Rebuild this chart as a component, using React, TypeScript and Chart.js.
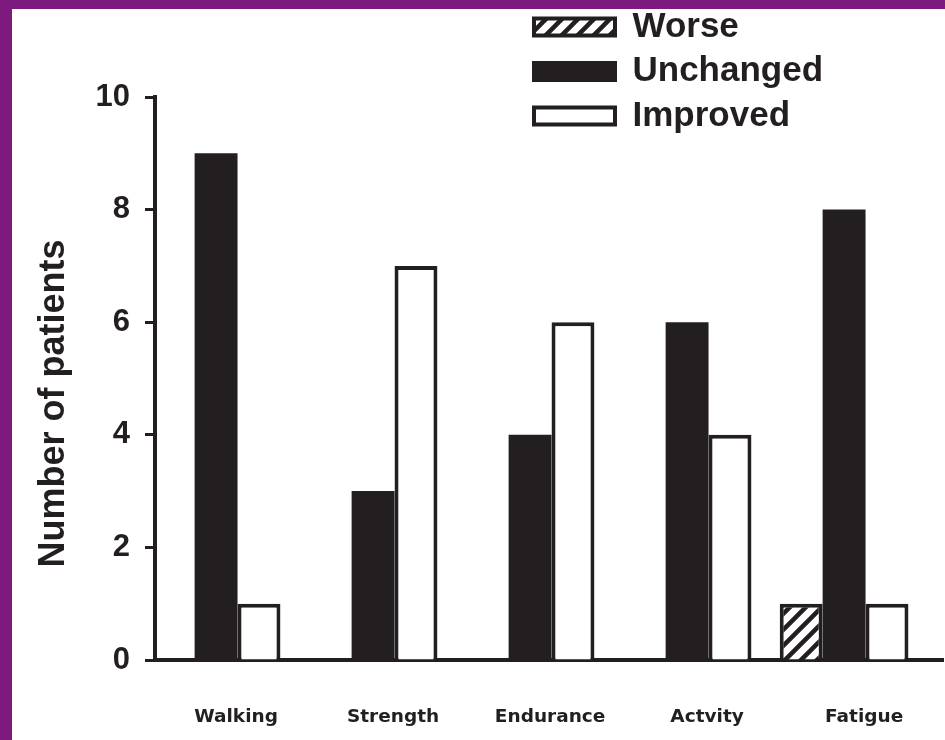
import { useEffect, useRef } from "react";
import { Chart, registerables } from "chart.js";

Chart.register(...registerables);

// Outcome categories and patient counts per response group
const categories = ["Walking", "Strength", "Endurance", "Actvity", "Fatigue"];
const worse = [0, 0, 0, 0, 1];
const unchanged = [9, 3, 4, 6, 8];
const improved = [1, 7, 6, 4, 1];
const yTicks = [0, 2, 4, 6, 8, 10];
const seriesNames = ["Worse", "Unchanged", "Improved"];

const INK = "#231F20";
const FRAME = "#7D1A7D";
const CANVAS_W = 933;
const CANVAS_H = 731;
// x range around category positions 1..5
const X_MIN = 0.611;
const X_MAX = 5.63;

function makeHatch(): CanvasPattern | string {
  const s = 16;
  const c = document.createElement("canvas");
  c.width = s;
  c.height = s;
  const g = c.getContext("2d");
  if (!g) return "#fff";
  g.fillStyle = "#fff";
  g.fillRect(0, 0, s, s);
  g.strokeStyle = INK;
  g.lineWidth = 4.5;
  g.beginPath();
  g.moveTo(-s / 2, s / 2);
  g.lineTo(s / 2, -s / 2);
  g.moveTo(0, s);
  g.lineTo(s, 0);
  g.moveTo(s / 2, s * 1.5);
  g.lineTo(s * 1.5, s / 2);
  g.stroke();
  return g.createPattern(c, "repeat") ?? "#fff";
}

const toPoints = (vals: number[]) => vals.map((v, i) => ({ x: i + 1, y: v }));

// Places the stacked legend in the upper-right corner, overlapping the plot
const legendPlacement = {
  id: "legendPlacement",
  beforeDraw(chart: any) {
    const lg = chart.legend;
    if (!lg) return;
    const w = lg.width;
    const h = lg.height;
    lg.left = 512.5;
    lg.top = -9;
    lg.right = lg.left + w;
    lg.bottom = lg.top + h;
  },
};

export default function App() {
  const ref = useRef<HTMLCanvasElement | null>(null);

  useEffect(() => {
    if (!ref.current) return;
    const hatch = makeHatch();
    const chart = new Chart(ref.current, {
      type: "bar",
      data: {
        datasets: [
          {
            label: seriesNames[0],
            data: toPoints(worse),
            backgroundColor: hatch as any,
            borderColor: INK,
            borderWidth: 4,
          },
          {
            label: seriesNames[1],
            data: toPoints(unchanged),
            backgroundColor: INK,
            borderColor: INK,
            borderWidth: 0,
          },
          {
            label: seriesNames[2],
            data: toPoints(improved),
            backgroundColor: "#ffffff",
            borderColor: INK,
            borderWidth: 4,
          },
        ],
      },
      options: {
        responsive: false,
        animation: false,
        devicePixelRatio: 1,
        events: [],
        datasets: {
          bar: {
            categoryPercentage: 0.82,
            barPercentage: 1,
          },
        },
        layout: {
          padding: { left: 8, top: 88, right: 2, bottom: 12 },
        },
        plugins: {
          tooltip: { enabled: false },
          legend: {
            display: true,
            position: "chartArea",
            align: "start",
            labels: {
              boxWidth: 81,
              boxHeight: 17,
              padding: 9.5,
              color: INK,
              font: { family: "Liberation Sans", weight: "bold", size: 35 },
              generateLabels: (chart: any) =>
                Chart.defaults.plugins.legend.labels
                  .generateLabels(chart)
                  .map((item: any) => ({ ...item, lineWidth: 4, strokeStyle: INK })),
            },
          },
        },
        scales: {
          x: {
            type: "linear",
            offset: false,
            min: X_MIN,
            max: X_MAX,
            afterBuildTicks: (scale: any) => {
              scale.ticks = categories.map((_, i) => ({ value: i + 1 }));
            },
            afterFit: (scale: any) => {
              scale.height = 68;
            },
            ticks: {
              callback: (_v: any, i: number) => categories[i] ?? "",
              autoSkip: false,
              maxRotation: 0,
              padding: 46,
              labelOffset: 20,
              color: INK,
              font: { family: "DejaVu Sans", weight: "bold", size: 18.5 },
            },
            grid: { display: false, drawTicks: false, offset: false },
            border: { display: true, color: INK, width: 4 },
          },
          y: {
            min: 0,
            max: 10,
            afterBuildTicks: (scale: any) => {
              scale.ticks = yTicks.map((v) => ({ value: v }));
            },
            afterFit: (scale: any) => {
              scale.width = 135;
            },
            ticks: {
              padding: 15,
              color: INK,
              font: { family: "Liberation Sans", weight: "bold", size: 31 },
            },
            grid: {
              drawOnChartArea: false,
              drawTicks: true,
              tickLength: 10,
              tickWidth: 3,
              tickColor: INK,
            },
            border: { display: true, color: INK, width: 4 },
            title: {
              display: true,
              text: "Number of patients     ",
              color: INK,
              font: { family: "Liberation Sans", weight: "bold", size: 36 },
              padding: { top: 12, bottom: 0 },
            },
          },
        },
      },
      plugins: [legendPlacement],
    } as any);
    return () => chart.destroy();
  }, []);

  return (
    <div
      style={{
        position: "absolute",
        left: 0,
        top: 0,
        width: 945,
        height: 740,
        boxSizing: "border-box",
        paddingLeft: 12,
        paddingTop: 9,
        background: FRAME,
      }}
    >
      <canvas
        ref={ref}
        width={CANVAS_W}
        height={CANVAS_H}
        style={{ display: "block", background: "#ffffff" }}
      />
    </div>
  );
}
